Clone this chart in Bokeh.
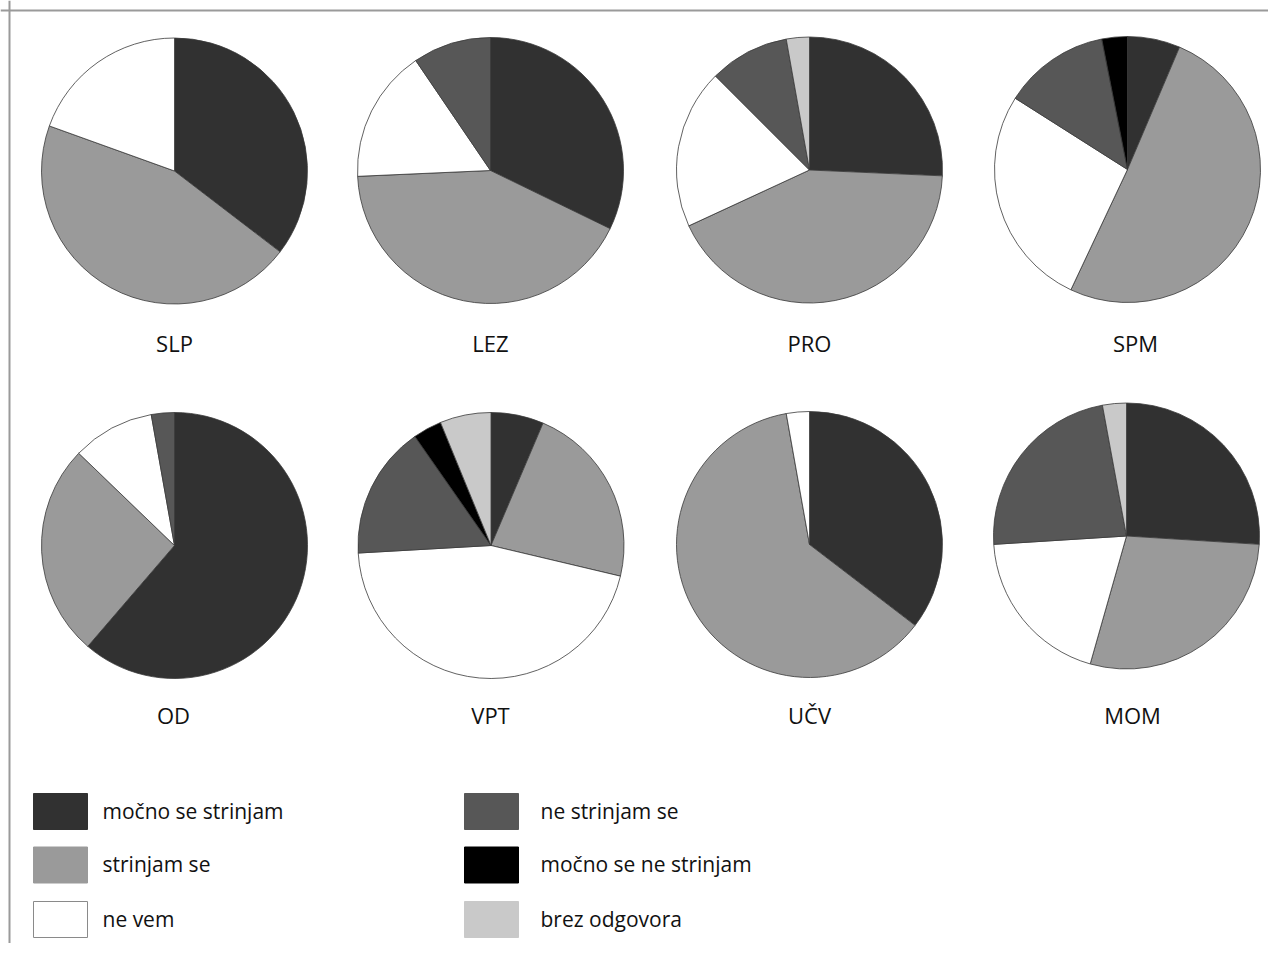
import numpy as np
from bokeh.plotting import figure
from bokeh.models import Range1d, Span
from bokeh.core.properties import value
from bokeh.embed import file_html
from bokeh.resources import INLINE

# ---- data ----
groups = ["SLP", "LEZ", "PRO", "SPM", "OD", "VPT", "UČV", "MOM"]
categories = ["močno se strinjam", "strinjam se", "ne vem",
              "ne strinjam se", "močno se ne strinjam", "brez odgovora"]
mocno_se_strinjam = [35.4, 32.2, 25.7, 6.4, 61.3, 6.4, 35.4, 26.0]
strinjam_se = [45.1, 42.1, 42.4, 50.6, 25.9, 22.3, 61.8, 28.4]
ne_vem = [19.5, 16.2, 19.4, 27.0, 10.0, 45.4, 2.8, 19.6]
ne_strinjam_se = [0.0, 9.5, 9.7, 12.9, 2.8, 16.2, 0.0, 23.1]
mocno_se_ne_strinjam = [0.0, 0.0, 0.0, 3.1, 0.0, 3.5, 0.0, 0.0]
brez_odgovora = [0.0, 0.0, 2.8, 0.0, 0.0, 6.2, 0.0, 2.9]
series = [mocno_se_strinjam, strinjam_se, ne_vem, ne_strinjam_se,
          mocno_se_ne_strinjam, brez_odgovora]

# ---- styles ----
colors = ["#313131", "#9a9a9a", "#ffffff", "#575757", "#000000", "#c9c9c9"]

W, H = 1268, 943
p = figure(width=W, height=H, output_backend="svg", toolbar_location=None,
           x_range=Range1d(0, W), y_range=Range1d(0, H),
           x_axis_type=None, y_axis_type=None, min_border=0,
           outline_line_color=None, background_fill_color="white",
           border_fill_color="white")
p.grid.visible = False


def px(x):
    return x


def py(y):
    return H - y


# frame lines
p.add_layout(Span(location=py(10), dimension="width", line_color="#9a9a9a", line_width=2))
p.add_layout(Span(location=px(9), dimension="height", line_color="#9a9a9a", line_width=2))

centers = [(174, 170.5), (490, 170), (809, 169.5), (1127, 169),
           (174, 545), (490.5, 545), (809, 544), (1126, 535.5)]
label_pos = [(174, 342), (490, 342), (809, 342), (1135, 342),
             (173, 714), (490, 714), (809, 714), (1132, 714)]
R = 133

for gi, g in enumerate(groups):
    vals = np.array([s[gi] for s in series], dtype=float)
    frac = vals / vals.sum()
    cum = np.concatenate([[0.0], np.cumsum(frac)]) * 2 * np.pi
    cx, cy = centers[gi]
    xs, ys, st, en, fc = [], [], [], [], []
    for k in range(len(categories)):
        if frac[k] <= 0:
            continue
        xs.append(px(cx)); ys.append(py(cy))
        st.append(np.pi / 2 - cum[k]); en.append(np.pi / 2 - cum[k + 1])
        fc.append(colors[k])
    p.wedge(x=xs, y=ys, radius=R, start_angle=st, end_angle=en,
            direction="clock", fill_color=fc, line_color="#3a3a3a", line_width=0.8)
    lx, ly = label_pos[gi]
    p.text(x=[px(lx)], y=[py(ly)], text=[g], text_align="center",
           text_baseline="middle", text_font=value("Open Sans"),
           text_font_size="22px", text_color="#111111")

# legend (manual)
leg_box_x = [60, 60, 60, 491, 491, 491]
leg_box_y = [811, 864.5, 919, 811, 864.5, 919]
leg_text_x = [102, 102, 102, 540, 540, 540]
for k, cat in enumerate(categories):
    lc = "#8a8a8a" if colors[k] == "#ffffff" else colors[k]
    p.rect(x=[px(leg_box_x[k])], y=[py(leg_box_y[k])], width=54, height=36,
           fill_color=colors[k], line_color=lc, line_width=1)
    p.text(x=[px(leg_text_x[k])], y=[py(leg_box_y[k] - 1)], text=[cat],
           text_align="left", text_baseline="middle",
           text_font=value("Open Sans"), text_font_size="21px",
           text_color="#111111")

open("out.html", "w").write(file_html(p, INLINE))
